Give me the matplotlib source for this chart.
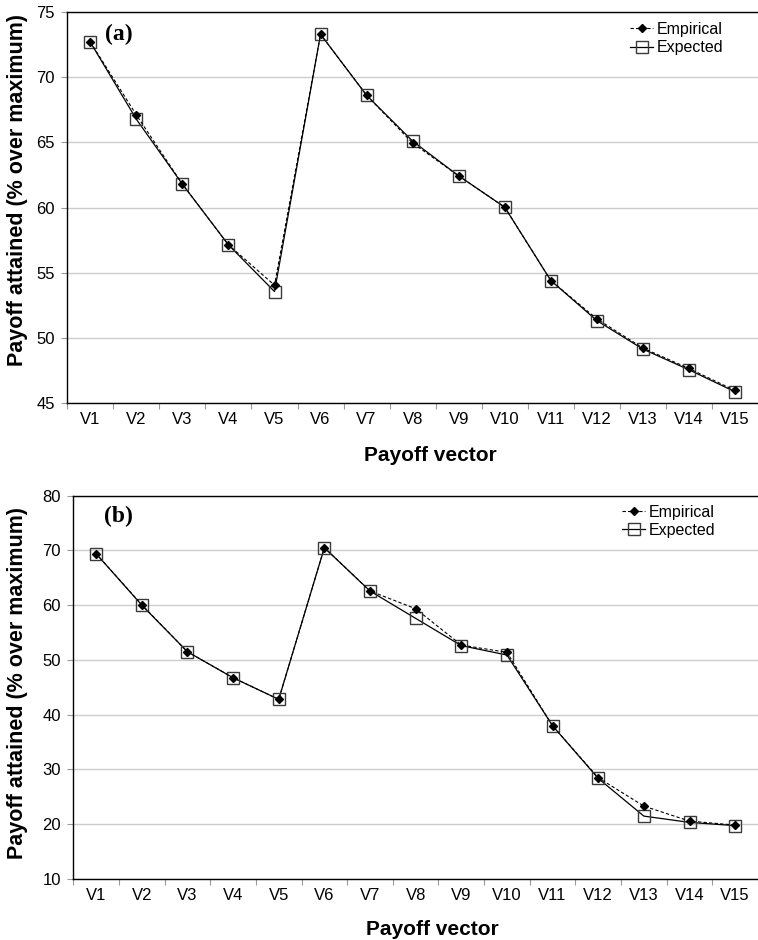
import matplotlib
matplotlib.use("Agg")
import matplotlib.pyplot as plt
from matplotlib.ticker import FixedLocator

plt.rcParams['font.family'] = ['Liberation Sans', 'DejaVu Sans']

categories = ["V1", "V2", "V3", "V4", "V5", "V6", "V7", "V8", "V9", "V10",
              "V11", "V12", "V13", "V14", "V15"]

a_empirical = [72.72, 67.11, 61.79, 57.13, 54.03, 73.31, 68.62, 64.95, 62.43,
               60.02, 54.39, 51.44, 49.20, 47.63, 45.94]
a_expected = [72.70, 66.78, 61.79, 57.13, 53.54, 73.31, 68.62, 65.10, 62.43,
              60.02, 54.39, 51.31, 49.12, 47.53, 45.84]

b_empirical = [69.40, 60.07, 51.48, 46.73, 42.78, 70.50, 62.58, 59.34, 52.70,
               51.37, 37.95, 28.45, 23.27, 20.53, 19.80]
b_expected = [69.40, 60.00, 51.48, 46.73, 42.78, 70.50, 62.58, 57.58, 52.60,
              50.88, 37.95, 28.33, 21.44, 20.29, 19.70]

a_yticks = [45, 50, 55, 60, 65, 70, 75]
b_yticks = [10, 20, 30, 40, 50, 60, 70, 80]

W, H = 758, 940
fig = plt.figure(figsize=(W / 100, H / 100), dpi=100)


def px_axes(left, top, right, bottom):
    return fig.add_axes([left / W, 1 - bottom / H, (right - left) / W, (bottom - top) / H])


def draw(ax, emp, exp, yticks, tag, tagpos, legpos, xlab_y, ylab_x, ylab_y):
    x = list(range(len(categories)))
    ax.plot(x, exp, color='black', linewidth=0.9, linestyle='-',
            marker='s', markersize=8, markerfacecolor='none',
            markeredgecolor='#3a3a3a', markeredgewidth=1.0, label='Expected', zorder=3)
    ax.plot(x, emp, color='black', linewidth=0.8, linestyle=(0, (3, 2)),
            marker='D', markersize=4, markerfacecolor='black',
            markeredgecolor='black', label='Empirical', zorder=4)
    ax.set_xlim(-0.5, len(categories) - 0.5)
    ax.set_ylim(yticks[0], yticks[-1])
    ax.set_yticks(yticks)
    ax.set_xticks(x)
    ax.set_xticklabels(categories, fontsize=12)
    ax.xaxis.set_minor_locator(FixedLocator([i - 0.5 for i in range(len(categories) + 1)]))
    ax.tick_params(axis='x', which='major', length=0, pad=7)
    ax.tick_params(axis='x', which='minor', length=4, color='#999999', width=0.8)
    ax.tick_params(axis='y', which='major', length=4, color='#999999', width=0.8,
                   labelsize=12, pad=5)
    ax.yaxis.grid(True, color='#cccccc', linewidth=1.0)
    ax.set_axisbelow(True)
    for s in ['left', 'bottom', 'top']:
        ax.spines[s].set_color('black')
        ax.spines[s].set_linewidth(1.0)
    ax.spines['right'].set_visible(False)
    ax.text(tagpos[0], tagpos[1], tag, transform=ax.transAxes, fontsize=17,
            fontweight='bold', family=['Liberation Serif', 'DejaVu Serif'],
            ha='left', va='center')
    handles, labels = ax.get_legend_handles_labels()
    ax.legend(handles[::-1], labels[::-1], loc='upper left', bbox_to_anchor=legpos,
              frameon=False, fontsize=11.5, borderaxespad=0, borderpad=0,
              handlelength=1.45, handletextpad=0.25, labelspacing=0.2)
    ax.set_xlabel('Payoff vector', fontsize=15, fontweight='bold')
    ax.xaxis.set_label_coords(0.525, xlab_y)
    ax.set_ylabel('Payoff attained (% over maximum)', fontsize=15.5, fontweight='bold')
    ax.yaxis.set_label_coords(ylab_x, ylab_y)


ax1 = px_axes(67.3, 12.3, 758, 402.7)
draw(ax1, a_empirical, a_expected, a_yticks, '(a)', (0.0546, 0.944),
     (0.8147, 0.975), -0.111, -0.057, 0.545)

ax2 = px_axes(73.3, 495.7, 758, 878.7)
draw(ax2, b_empirical, b_expected, b_yticks, '(b)', (0.0448, 0.945),
     (0.8014, 0.9765), -0.108, -0.066, 0.512)

fig.savefig('out.png', dpi=100)
